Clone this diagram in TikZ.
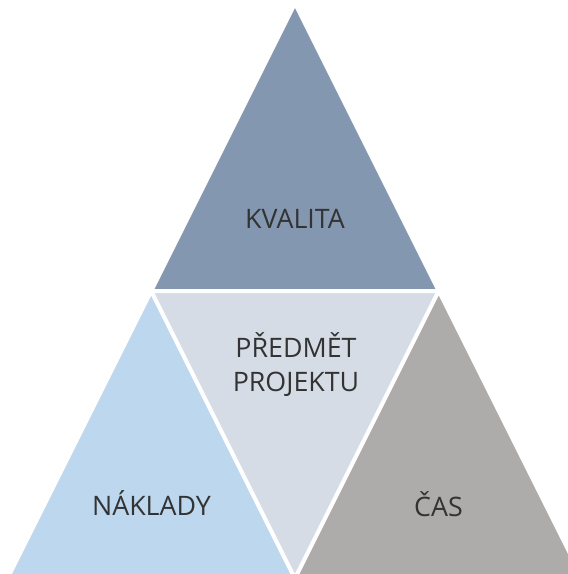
\documentclass[tikz,border=0pt]{standalone}
\usepackage{fontspec}
\setmainfont{Open Sans}
\usetikzlibrary{positioning}

\definecolor{kvalitafill}{HTML}{8497B0}
\definecolor{predmetfill}{HTML}{D6DCE5}
\definecolor{nakladyfill}{HTML}{BDD7EE}
\definecolor{casfill}{HTML}{AEABAB}
\definecolor{labeltext}{HTML}{333333}

\tikzset{
  facet/.style={draw=white, line width=4pt, line join=miter},
  facetlabel/.style={text=labeltext, font=\fontsize{26.8}{34}\selectfont, anchor=base, inner sep=0pt}
}

\begin{document}
\begin{tikzpicture}[x=1pt, y=-1pt]
		
		% Fix the page size and cut off whatever sticks out
		\useasboundingbox (0,0) rectangle (568,574);
		\clip (0,0) rectangle (568,574);
		
		% Corner points of the triangle grid
		\coordinate (apex) at (295,3.5);
		\coordinate (tl) at (151.25,291);
		\coordinate (tr) at (438.75,291);
		\coordinate (bl) at (7.5,578.5);
		\coordinate (bm) at (295,578.5);
		\coordinate (br) at (582.5,578.5);
		
		% The four faces
		\filldraw[facet, fill=kvalitafill] (apex) -- (tl) -- (tr) -- cycle;
		\filldraw[facet, fill=nakladyfill] (tl) -- (bl) -- (bm) -- cycle;
		\filldraw[facet, fill=predmetfill] (tl) -- (tr) -- (bm) -- cycle;
		\filldraw[facet, fill=casfill] (tr) -- (bm) -- (br) -- cycle;
		
		% Labels (base of a two-line node is its last line)
		\node[facetlabel] (kvalita) at (295,228) {KVALITA};
		\node[facetlabel, align=center] (predmet) at (296,391) {PŘEDMĚT\\PROJEKTU};
		\node[facetlabel] (naklady) at (151.5,515) {NÁKLADY};
		\node[facetlabel] (cas) at (438.5,516) {ČAS};
		
	\end{tikzpicture}
\end{document}
